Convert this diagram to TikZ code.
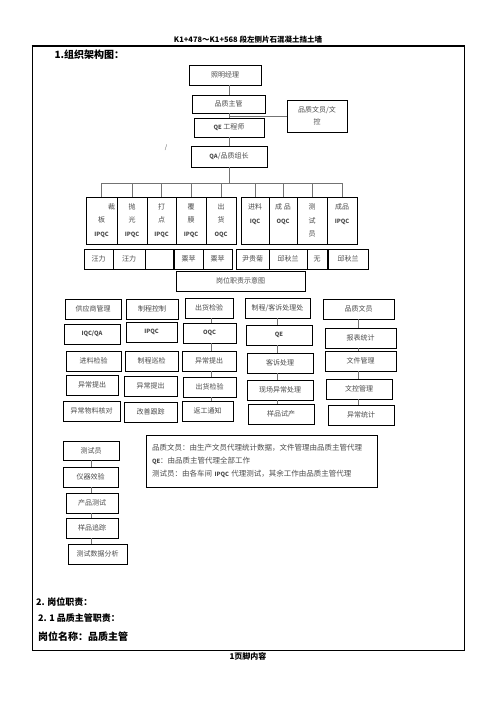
\documentclass[tikz,border=0pt]{standalone}
\usepackage{fontspec}
\setmainfont{Noto Sans CJK SC}
\usetikzlibrary{calc}
\newcommand{\boxfont}{\fontsize{7}{13.5}\selectfont}
\newcommand{\lat}[1]{{\bfseries\fontsize{5.8}{13.5}\selectfont #1}}

\begin{document}
\begin{tikzpicture}[x=1pt,y=-1pt,
    box/.style={draw,line width=0.8pt,fill=white,inner sep=0pt,align=center,font=\boxfont,text=black!70},
    link/.style={draw=black!55,line width=0.9pt},
    heading/.style={anchor=west,font=\bfseries\fontsize{9}{11}\selectfont}]
    \useasboundingbox (0,0) rectangle (496,702);

    % page frame and titles
    \draw[line width=0.8pt] (32.5,46) -- (32.5,650) -- (464,650) -- (464,46);
    \draw[line width=1.7pt] (31.7,46) -- (464.8,46);
    \node[font=\bfseries\fontsize{7.5}{9}\selectfont] (title) at (248,39.5) {K1+478～K1+568 段左侧片石混凝土挡土墙};
    \node[heading,font=\bfseries\fontsize{10}{12}\selectfont] (h1) at (51,55) {1.组织架构图：};
    \node[font=\fontsize{6}{7}\selectfont,text=black!70] (mark) at (166,148) {/};

    % management chain
    \node[box,minimum width=72,minimum height=20] (mgr) at (225,75) {照明经理};
    \node[box,minimum width=73,minimum height=18] (sup) at (228.5,104) {品质主管};
    \node[box,minimum width=70,minimum height=19] (qe) at (229,127.5) {\lat{QE} 工程师};
    \node[box,minimum width=60,minimum height=32,font=\fontsize{7}{12}\selectfont] (clerk) at (317,116) {品质文员/文\\控};
    \node[box,minimum width=76,minimum height=21] (qa) at (229,156.5) {\lat{QA}/品质组长};

    \draw[link] (mgr.south -| qa.north) -- (sup.north -| qa.north);
    \draw[link] (sup.south -| qa.north) -- (qe.north -| qa.north);
    \draw[link] (qe.south -| qa.north) -- (qa.north);
    \coordinate (tap) at (229,116);
    \draw[link] (tap) -- (tap -| clerk.west);

    % inspection posts
    \foreach \n/\x/\w/\t in {b1/101.5/31/{\hspace*{20pt}裁\\板\\\lat{IPQC}},
                             b2/132/30/{抛\\光\\\lat{IPQC}},
                             b3/161.5/29/{打\\点\\\lat{IPQC}},
                             b4/191/30/{覆\\膜\\\lat{IPQC}},
                             b5/221/30/{出\\货\\\lat{OQC}},
                             b6/255/28/{进料\\\lat{IQC}\\~},
                             b7/283/28/{成 品\\\lat{OQC}\\~},
                             b8/312/30/{测\\试\\员},
                             b9/342/30/{成品\\\lat{IPQC}\\~}}
        \node[box,minimum width=\w,minimum height=47] (\n) at (\x,220.5) {\t};

    \coordinate (bus) at (229,183);
    \draw[link] (qa.south) -- (bus);
    \draw[link] (b1.north |- bus) -- (b9.north |- bus);
    \foreach \n in {b1,b2,b3,b4,b5,b6,b7,b8,b9}
        \draw[link] (\n.north |- bus) -- (\n.north);

    % people
    \foreach \n/\x/\w/\t in {n1/98.5/29/汪力, n2/129/32/汪力, n3/159/28/{},
                             n4/188.5/29/粟苹, n5/217.5/29/粟苹, n6/252.5/33/尹贵菊,
                             n7/288/38/邱秋兰, n8/317/20/无, n9/348/40/邱秋兰}
        \node[box,minimum width=\w,minimum height=20] (\n) at (\x,259) {\t};

    \node[box,minimum width=129,minimum height=20] (duty) at (240.5,281) {岗位职责示意图};

    % duty columns
    \node[box,minimum width=56,minimum height=20] (c1a) at (93,309) {供应商管理};
    \node[box,minimum width=56,minimum height=20] (c1b) at (92,334) {\lat{IQC/QA}};
    \node[box,minimum width=55,minimum height=20] (c1c) at (93.5,361) {进料检验};
    \node[box,minimum width=52,minimum height=20] (c1d) at (92,385) {异常提出};
    \node[box,minimum width=57,minimum height=20] (c1e) at (91.5,411) {异常物料核对};

    \node[box,minimum width=52,minimum height=20] (c2a) at (152,309) {制程控制};
    \node[box,minimum width=51,minimum height=20] (c2b) at (151.5,332) {\lat{IPQC}};
    \node[box,minimum width=53,minimum height=20] (c2c) at (151.5,361) {制程巡检};
    \node[box,minimum width=53,minimum height=20] (c2d) at (150.5,386) {异常提出};
    \node[box,minimum width=53,minimum height=20] (c2e) at (150.5,412) {改善跟踪};

    \node[box,minimum width=48,minimum height=20] (c3a) at (209,308) {出货检验};
    \node[box,minimum width=53,minimum height=20] (c3b) at (209.5,333) {\lat{OQC}};
    \node[box,minimum width=54,minimum height=20] (c3c) at (209,361) {异常提出};
    \node[box,minimum width=53,minimum height=20] (c3d) at (209.5,387) {出货检验};
    \node[box,minimum width=51,minimum height=20] (c3e) at (207.5,411) {返工通知};

    \node[box,minimum width=65,minimum height=20] (c4a) at (277.5,308) {制程/客诉处理处};
    \node[box,minimum width=66,minimum height=20] (c4b) at (279,335) {\lat{QE}};
    \node[box,minimum width=66,minimum height=20] (c4c) at (280,363) {客诉处理};
    \node[box,minimum width=66,minimum height=20] (c4d) at (280,390) {现场异常处理};
    \node[box,minimum width=66,minimum height=20] (c4e) at (281,414) {样品试产};

    \node[box,minimum width=71,minimum height=20] (c5a) at (358.5,309) {品质文员};
    \node[box,minimum width=71,minimum height=20] (c5b) at (360.5,338) {报表统计};
    \node[box,minimum width=71,minimum height=20] (c5c) at (360.5,361) {文件管理};
    \node[box,minimum width=66,minimum height=20] (c5d) at (359,389) {文控管理};
    \node[box,minimum width=66,minimum height=20] (c5e) at (361,415) {异常统计};

    \coordinate (x3) at (211,0);
    \coordinate (x4) at (277,0);
    \coordinate (x5) at (358,0);
    \foreach \a/\b/\c in {c3a/c3b/x3, c3b/c3c/x3, c3c/c3d/x3, c3d/c3e/x3,
                          c4a/c4b/x4, c4b/c4c/x4, c4c/c4d/x4, c4d/c4e/x4,
                          c5a/c5b/x5, c5b/c5c/x5, c5c/c5d/x5, c5d/c5e/x5}
        \draw[link] (\a.south -| \c) -- (\b.north -| \c);

    % tester column
    \node[box,minimum width=56,minimum height=19] (t1) at (91,450.5) {测试员};
    \node[box,minimum width=55,minimum height=20] (t2) at (90.5,477) {仪器效验};
    \node[box,minimum width=52,minimum height=20] (t3) at (92,503) {产品测试};
    \node[box,minimum width=52,minimum height=20] (t4) at (92,528) {样品追踪};
    \node[box,minimum width=59,minimum height=20] (t5) at (97.5,554) {测试数据分析};

    \coordinate (xt) at (91,0);
    \foreach \a/\b in {t1/t2, t2/t3, t3/t4, t4/t5}
        \draw[link] (\a.south -| xt) -- (\b.north -| xt);

    % notes on acting roles
    \node[box,minimum width=231,minimum height=52,text width=219,align=left,
          font=\fontsize{7.5}{12.8}\selectfont] (note) at (261.5,461) {品质文员：由生产文员代理统计数据，文件管理由品质主管代理\\
        \lat{QE}：由品质主管代理全部工作\\
        测试员：由各车间 \lat{IPQC} 代理测试，其余工作由品质主管代理};

    % section headings
    \node[heading] (h2) at (32.5,602) {2. 岗位职责：};
    \node[heading] (h21) at (34.5,618) {2. 1 品质主管职责：};
    \node[heading,font=\bfseries\fontsize{10}{12}\selectfont] (h22) at (34.5,637) {岗位名称：品质主管};
    \node[font=\bfseries\fontsize{8}{10}\selectfont] (foot) at (248,656) {1页脚内容};
\end{tikzpicture}
\end{document}
